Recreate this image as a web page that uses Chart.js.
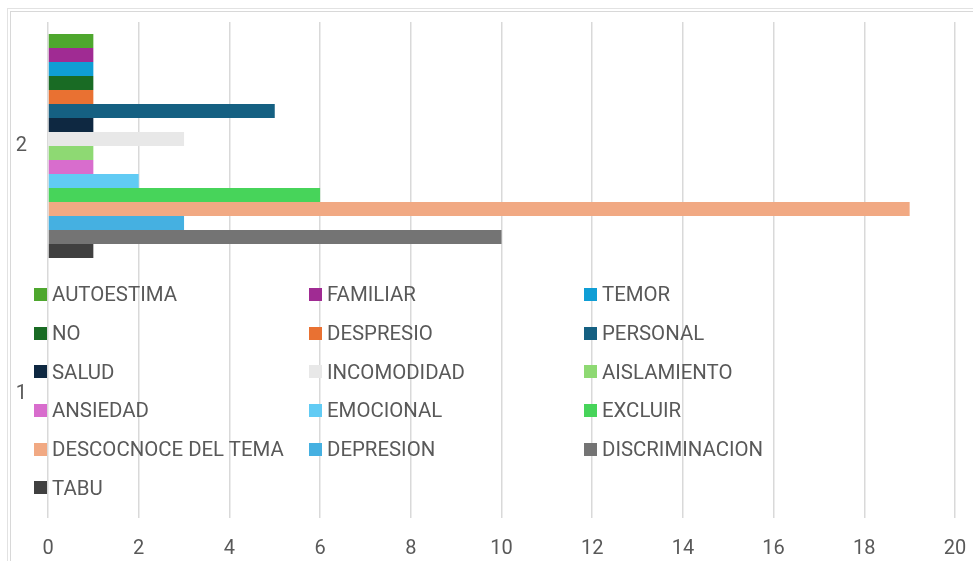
<!DOCTYPE html>
<html>
<head>
<meta charset="utf-8">
<script src="https://cdn.jsdelivr.net/npm/chart.js@4"></script>
<style>
  html, body { margin: 0; padding: 0; background: #fff; }
  body { width: 973px; height: 561px; position: relative; overflow: hidden; font-family: Roboto, sans-serif; }
  #frame { position: absolute; left: 7px; top: 8px; width: 1000px; height: 600px;
    border: 1px solid #e2e2e2; box-sizing: border-box; }
  #frame2 { position: absolute; left: 10px; top: 11px; width: 1000px; height: 600px;
    border: 1px solid #d8d8d8; box-sizing: border-box; }
  #wrap { position: absolute; left: 0; top: 0; width: 973px; height: 561px; }
  #legend { position: absolute; left: 34px; top: 275px; display: grid;
    grid-template-columns: 275px 275px 275px; grid-auto-rows: 38.7px; }
  .item { display: flex; align-items: center; font-size: 20.4px; color: #595959; white-space: nowrap; }
  .sw { width: 13px; height: 13px; margin-right: 5px; flex: none; }
</style>
</head>
<body>
<div id="frame"></div>
<div id="frame2"></div>
<div id="wrap"><canvas id="chart" width="973" height="561"></canvas></div>
<div id="legend"></div>
<script>
// categorias (de arriba hacia abajo)
const categories = ["2", "1"];

const seriesNames = [
  "AUTOESTIMA", "FAMILIAR", "TEMOR",
  "NO", "DESPRESIO", "PERSONAL",
  "SALUD", "INCOMODIDAD", "AISLAMIENTO",
  "ANSIEDAD", "EMOCIONAL", "EXCLUIR",
  "DESCOCNOCE DEL TEMA", "DEPRESION", "DISCRIMINACION",
  "TABU"
];

// valores de la categoria "2"
const values2 = [1, 1, 1, 1, 1, 5, 1, 3, 1, 1, 2, 6, 19, 3, 10, 1];
// valores de la categoria "1" (no se ven barras)
const values1 = [0, 0, 0, 0, 0, 0, 0, 0, 0, 0, 0, 0, 0, 0, 0, 0];

const colors = [
  "#4ea72e", "#a02b93", "#0f9ed5",
  "#196b24", "#e97132", "#156082",
  "#0e2841", "#e8e8e8", "#8ed973",
  "#d86dcd", "#61cbf4", "#47d45a",
  "#f1a983", "#45b0e1", "#747474",
  "#404040"
];

const xTicks = [0, 2, 4, 6, 8, 10, 12, 14, 16, 18, 20];

const datasets = seriesNames.map((name, i) => ({
  label: name,
  data: [values2[i], values1[i]],
  backgroundColor: colors[i],
  borderWidth: 0,
  categoryPercentage: 0.903,
  barPercentage: 1,
}));

const chart = new Chart(document.getElementById("chart").getContext("2d"), {
  type: "bar",
  data: { labels: categories, datasets },
  options: {
    indexAxis: "y",
    responsive: false,
    animation: false,
    layout: { padding: { top: 22, right: 18, bottom: 0, left: 0 } },
    plugins: { legend: { display: false }, tooltip: { enabled: false } },
    scales: {
      x: {
        min: 0,
        max: 20,
        afterBuildTicks: (axis) => { axis.ticks = xTicks.map((v) => ({ value: v })); },
        grid: { color: "#d9d9d9", lineWidth: 1.5, drawTicks: false },
        border: { display: false },
        ticks: { color: "#595959", font: { family: "Roboto", size: 20 }, padding: 19, maxRotation: 0 },
        afterFit: (axis) => {
          axis.height = 43;
          axis.paddingLeft = 0;
          axis.paddingRight = 0;
        },
      },
      y: {
        grid: { display: false, drawTicks: false },
        border: { display: false },
        ticks: { color: "#595959", font: { family: "Roboto", size: 20 }, padding: 21 },
        afterFit: (axis) => {
          axis.width = 48;
          axis.paddingTop = 0;
          axis.paddingBottom = 0;
        },
      },
    },
  },
});

// leyenda en HTML dentro del area del grafico
const legendEl = document.getElementById("legend");
chart.data.datasets.forEach((ds) => {
  const item = document.createElement("div");
  item.className = "item";
  const sw = document.createElement("span");
  sw.className = "sw";
  sw.style.background = ds.backgroundColor;
  const txt = document.createElement("span");
  txt.textContent = ds.label;
  item.appendChild(sw);
  item.appendChild(txt);
  legendEl.appendChild(item);
});
</script>
</body>
</html>
